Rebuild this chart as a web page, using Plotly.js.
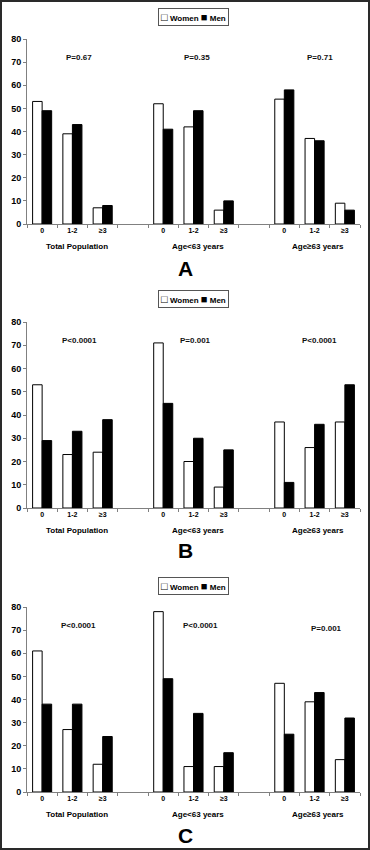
<!DOCTYPE html>
<html><head><meta charset="utf-8">
<script src="https://cdn.plot.ly/plotly-3.0.1.min.js"></script>
<style>html,body{margin:0;padding:0;background:#fff}#chart{width:370px;height:850px}</style>
</head><body><div id="chart"></div>
<script>
// Categories (zero-width spaces keep repeated labels unique)
const Z = "\u200b";
const xCats = ["0","1-2","≥3"," ","0"+Z,"1-2"+Z,"≥3"+Z,"  ","0"+Z+Z,"1-2"+Z+Z,"≥3"+Z+Z];
const groupLabels = ["Total Population","Age<63 years","Age≥63 years"];
const seriesNames = ["Women","Men"];
const panelLetters = ["A","B","C"];

// Panel A
const womenA = [53,39,7,null,52,42,6,null,54,37,9];
const menA   = [49,43,8,null,41,49,10,null,58,36,6];
const pA = ["P=0.67","P=0.35","P=0.71"];
// Panel B
const womenB = [53,23,24,null,71,20,9,null,37,26,37];
const menB   = [29,33,38,null,45,30,25,null,11,36,53];
const pB = ["P<0.0001","P=0.001","P<0.0001"];
// Panel C
const womenC = [61,27,12,null,78,11,11,null,47,39,14];
const menC   = [38,38,24,null,49,34,17,null,25,43,32];
const pC = ["P<0.0001","P<0.0001","P=0.001"];

const W = 370, H = 850;
const FONT = "Liberation Sans, Arial, Helvetica, sans-serif";
const panels = [
  {women: womenA, men: menA, p: pA, top: 39, bottom: 224, legY: 17, letterY: 268, pX: [1.22,5.12,9.18], pY: [72,72,72]},
  {women: womenB, men: menB, p: pB, top: 322, bottom: 508, legY: 299.5, letterY: 550, pX: [1.23,5.05,9.17], pY: [72,72,72]},
  {women: womenC, men: menC, p: pC, top: 607, bottom: 792, legY: 586, letterY: 835, pX: [1.19,5.23,9.4], pY: [72,72,70.5]}
];
const groupX = [1.15, 5.16, 9.1];

const traces = [];
const layout = {
  width: W, height: H,
  margin: {l:0, r:0, t:0, b:0},
  paper_bgcolor: "#fff", plot_bgcolor: "#fff",
  barmode: "group", bargap: 0.37, bargroupgap: 0,
  showlegend: false,
  font: {family: FONT, color: "#000"},
  annotations: [], shapes: []
};

const sq = (c) => '<span style="font-size:11px">' + c + '</span>';

panels.forEach((pn, i) => {
  const sfx = i === 0 ? "" : String(i + 1);
  const xa = "x" + sfx, ya = "y" + sfx;
  traces.push({
    type: "bar", x: xCats, y: pn.women, name: seriesNames[0],
    xaxis: xa, yaxis: ya,
    marker: {color: "#ffffff", line: {color: "#000", width: 1}},
    hoverinfo: "y"
  });
  traces.push({
    type: "bar", x: xCats, y: pn.men, name: seriesNames[1],
    xaxis: xa, yaxis: ya,
    marker: {color: "#000000", line: {color: "#000", width: 1}},
    hoverinfo: "y"
  });
  layout["xaxis" + sfx] = {
    domain: [27 / W, 360 / W], anchor: ya,
    type: "category", categoryorder: "array", categoryarray: xCats,
    range: [-0.5, xCats.length - 0.5],
    showline: true, linecolor: "#808080", linewidth: 1,
    ticks: "outside", tickson: "boundaries", ticklen: 3, tickcolor: "#808080",
    tickfont: {size: 7, family: FONT, weight: "bold", color: "#000"},
    showgrid: false, zeroline: false, fixedrange: true
  };
  layout["yaxis" + sfx] = {
    domain: [1 - pn.bottom / H, 1 - pn.top / H], anchor: xa,
    range: [0, 80], dtick: 10, tick0: 0,
    showline: true, linecolor: "#808080", linewidth: 1,
    ticks: "outside", ticklen: 3, tickcolor: "#808080",
    tickfont: {size: 9, family: FONT, weight: "bold", color: "#000"},
    showgrid: false, zeroline: false, fixedrange: true
  };
  // legend box
  layout.annotations.push({
    text: sq("□") + " " + seriesNames[0] + " " + sq("■") + " " + seriesNames[1],
    xref: "paper", yref: "paper", x: 193.5 / W, y: 1 - pn.legY / H,
    xanchor: "center", yanchor: "middle", showarrow: false,
    bordercolor: "#555", borderwidth: 1, borderpad: 2, bgcolor: "#fff",
    font: {size: 8, family: FONT, weight: "bold", color: "#000"}
  });
  pn.p.forEach((t, k) => {
    layout.annotations.push({
      text: t, xref: xa, yref: ya, x: pn.pX[k], y: pn.pY[k],
      showarrow: false, font: {size: 8, family: FONT, weight: "bold", color: "#111"}
    });
  });
  groupLabels.forEach((g, k) => {
    layout.annotations.push({
      text: g, xref: xa, yref: ya + " domain", x: groupX[k], y: 0, yshift: -22,
      yanchor: "middle", showarrow: false,
      font: {size: 8, family: FONT, weight: "bold", color: "#000"}
    });
  });
  layout.annotations.push({
    text: panelLetters[i], xref: "paper", yref: "paper", x: 0.5, y: 1 - pn.letterY / H,
    yanchor: "middle", showarrow: false,
    font: {size: 21, family: FONT, weight: "bold", color: "#000"}
  });
});

layout.shapes.push({
  type: "rect", xref: "paper", yref: "paper", x0: 0, x1: 1, y0: 0, y1: 1,
  line: {color: "#2a2a2a", width: 4}, fillcolor: "rgba(0,0,0,0)", layer: "above"
});

Plotly.newPlot("chart", traces, layout, {displayModeBar: false, staticPlot: true});
</script>
</body></html>
